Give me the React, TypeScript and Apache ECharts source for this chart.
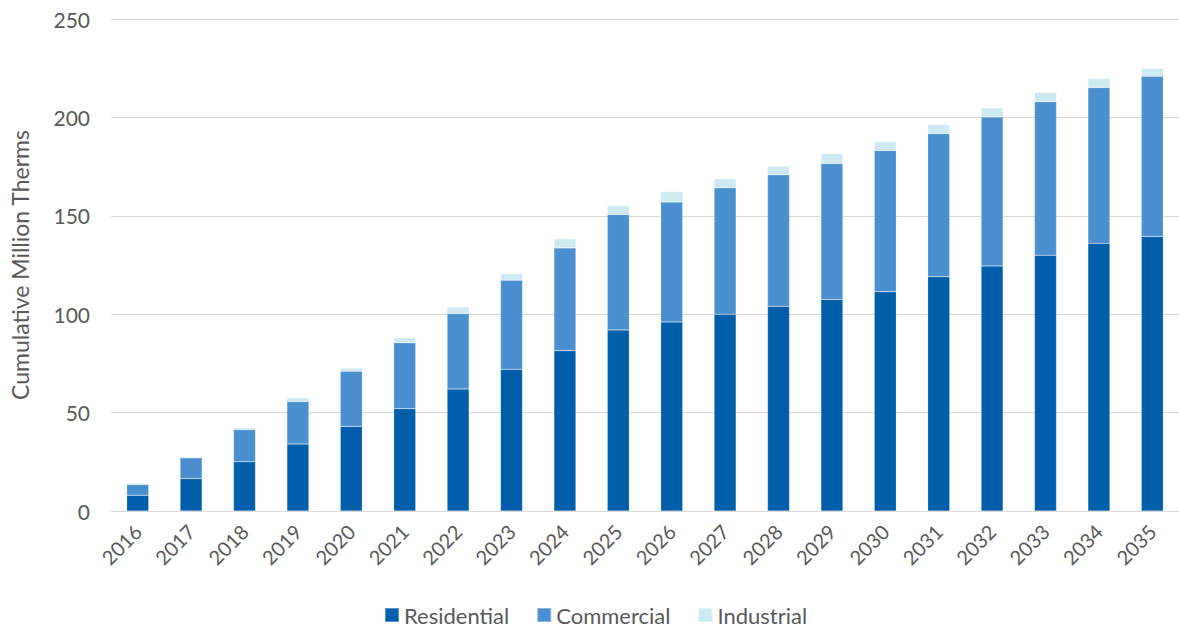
import React, { useEffect, useRef } from "react";
import * as echarts from "echarts";

const years = ["2016","2017","2018","2019","2020","2021","2022","2023","2024","2025","2026","2027","2028","2029","2030","2031","2032","2033","2034","2035"];
const residential = [8, 16.5, 25, 34, 43, 52, 62, 72, 81.5, 92, 96, 100, 104, 107.5, 111.5, 119, 124.5, 130, 136, 139.5];
const commercial = [5.5, 10.5, 16.4, 21.6, 28, 33.5, 38.3, 45.3, 52.2, 58.6, 61, 64.2, 66.8, 69.1, 71.7, 72.8, 75.7, 78, 79.2, 81.4];
const industrial = [0.5, 0.6, 1.0, 1.9, 1.6, 2.5, 3.4, 3.3, 4.6, 4.6, 5.3, 4.6, 4.4, 5.0, 4.5, 4.6, 4.6, 4.6, 4.5, 4.0];
const seriesNames = ["Residential", "Commercial", "Industrial"];
const colors = ["#005EAA", "#4A90D0", "#CDEAF2"];

export default function App() {
  const ref = useRef<HTMLDivElement>(null);
  useEffect(() => {
    document.body.style.margin = "0";
    const chart = echarts.init(ref.current!, null, { renderer: "svg" });
    const font = "Lato";
    const dataSets = [residential, commercial, industrial];
    chart.setOption({
      animation: false,
      textStyle: { fontFamily: font },
      grid: { left: 101, top: 19, width: 1087, height: 492, containLabel: false },
      legend: {
        top: 604,
        left: 384,
        itemWidth: 14,
        itemHeight: 14,
        itemGap: 27,
        icon: "rect",
        padding: 0,
        textStyle: { fontSize: 22, color: "#595959", fontFamily: font },
        data: seriesNames,
      },
      xAxis: {
        type: "category",
        data: years,
        axisTick: { show: false },
        axisLine: { lineStyle: { color: "#d9d9d9" } },
        axisLabel: { rotate: 45, fontSize: 20, color: "#595959", margin: 17, fontFamily: font },
      },
      yAxis: {
        type: "value",
        min: 0,
        max: 250,
        interval: 50,
        name: "Cumulative Million Therms",
        nameLocation: "middle",
        nameGap: 80,
        nameTextStyle: { fontSize: 23, color: "#595959", fontFamily: font },
        axisLine: { show: false },
        axisTick: { show: false },
        axisLabel: { fontSize: 21, color: "#595959", margin: 21, fontFamily: font },
        splitLine: { lineStyle: { color: "#d9d9d9", width: 1 } },
      },
      series: seriesNames.map((n, i) => ({
        name: n,
        type: "bar",
        stack: "total",
        barWidth: 22,
        data: dataSets[i],
        itemStyle: { color: colors[i], borderColor: "rgba(255,255,255,0.35)", borderWidth: 0.5 },
      })),
    });
    return () => chart.dispose();
  }, []);
  return <div ref={ref} style={{ width: 1179, height: 630 }} />;
}
